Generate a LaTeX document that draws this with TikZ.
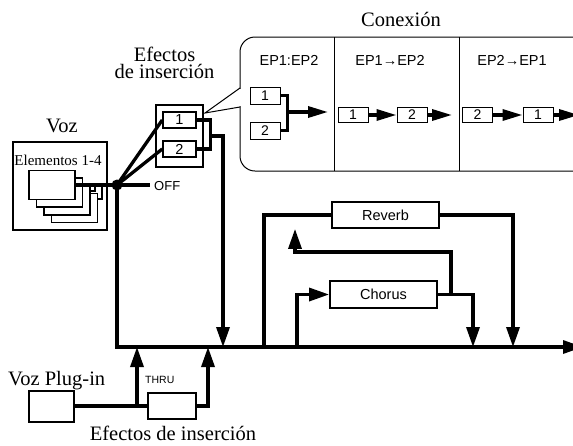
\documentclass[tikz,border=0pt]{standalone}
\usepackage{fontspec}
\setmainfont{Liberation Serif}
\setsansfont{Liberation Sans}
\usetikzlibrary{arrows.meta}
\begin{document}
\begin{tikzpicture}[x=1pt,y=-1pt,
  wire/.style={line width=3.3pt},
  stub/.style={line width=2pt},
  arr/.style={line width=3.3pt,-{Triangle[length=20pt,width=13pt]}},
  parr/.style={line width=3.3pt,-{Triangle[length=20pt,width=11pt]}},
  blk/.style={draw,line width=1.8pt,fill=white,inner sep=0pt},
  pbox/.style={draw,line width=1pt,fill=white,inner sep=0pt,minimum width=30pt,minimum height=15pt,font=\sffamily\fontsize{14}{14}\selectfont},
  ibox/.style={draw,line width=1.5pt,fill=white,inner sep=0pt,minimum width=33pt,minimum height=16pt,font=\sffamily\fontsize{14.5}{14.5}\selectfont},
  fxbox/.style={draw,line width=1.8pt,fill=white,inner sep=0pt,minimum width=107pt,minimum height=26pt,font=\sffamily\fontsize{14.5}{14.5}\selectfont},
  serif/.style={font=\fontsize{20.5}{22}\selectfont,inner sep=0pt},
  sanslbl/.style={font=\sffamily\fontsize{14.5}{14.5}\selectfont,inner sep=0pt},
  thinl/.style={line width=1pt}]
\useasboundingbox (0,0) rectangle (573,445);

% ---------- Conexion bubble ----------
\node[serif,anchor=base] (conx) at (401,26) {Conexión};
\draw[thinl,rounded corners=15pt] (240,100) -- (240,37) -- (590,37) -- (590,171) -- (240,171) -- (240,100);
\fill[white] (238,89) rectangle (242,106);
\draw[thinl] (240,88) -- (205,113) -- (240,107);
\draw[thinl] (334,37) -- (334,171);
\draw[thinl] (459,37) -- (459,171);
\node[sanslbl,anchor=base] (t1) at (289,65) {EP1:EP2};
\node[sanslbl,anchor=base] (t2) at (390,65) {EP1→EP2};
\node[sanslbl,anchor=base] (t3) at (512,65) {EP2→EP1};

\node[pbox,minimum height=17pt] (b1) at (265,95.5) {1};
\node[pbox,minimum height=17pt] (b2) at (265,130.5) {2};
\draw[wire] (b1.east) -- ++(7,0) |- (b2.east);
\coordinate (bm) at (287,112);
\coordinate (bo) at (328,112);
\draw[parr] (bm) -- (bo);

\node[pbox] (c1) at (353,115) {1};
\node[pbox] (c2) at (412,115) {2};
\coordinate (co) at (452,115);
\draw[parr] (c1.east) -- (c2.west);
\draw[parr] (c2.east) -- (co);

\node[pbox] (d2) at (477.5,115) {2};
\node[pbox] (d1) at (538,115) {1};
\coordinate (dout) at (579,115);
\draw[parr] (d2.east) -- (d1.west);
\draw[parr] (d1.east) -- (dout);

% ---------- Voz ----------
\node[blk,minimum width=94pt,minimum height=88pt] (voz) at (60,186) {};
\node[serif,anchor=base] (vozl) at (62,132) {Voz};
\node[font=\fontsize{15}{15}\selectfont,inner sep=0pt,anchor=base] (elem) at (58,165) {Elementos 1-4};
\node[blk,minimum width=46pt,minimum height=29pt] (e4) at (74.5,208) {};
\node[blk,minimum width=46pt,minimum height=29pt] (e3) at (67,200.3) {};
\node[blk,minimum width=46pt,minimum height=29pt] (e2) at (59.5,192.7) {};
\node[blk,minimum width=46pt,minimum height=29pt] (e1) at (52,185) {};

\node[circle,fill,inner sep=0pt,minimum size=11pt] (j) at (117,185) {};
\draw[wire] (e1.east) -- (j.center);
\draw[stub] ([yshift=-6pt]e3.north east) -- ++(4,0) |- (j.center);
\draw[stub] ([yshift=-6pt]e4.north east) -- ++(4,0) |- (j.center);
\coordinate (off) at (150,185);
\draw[wire] (j.center) -- (off);
\node[font=\sffamily\fontsize{13}{13}\selectfont,inner sep=0pt,anchor=base west] (offl) at (154,190) {OFF};

% ---------- Insertion effects (top) ----------
\node[inner sep=0pt,align=center,font=\fontsize{20.5}{17}\selectfont,anchor=north] (efl) at (164.5,47) {Efectos\\de inserción};
\node[draw,line width=1.2pt,fill=white,minimum width=47pt,minimum height=62pt,inner sep=0pt] (ins) at (179.5,136) {};
\node[ibox] (i1) at (179.5,120) {1};
\node[ibox] (i2) at (179.5,149) {2};
\draw[wire] (j.center) -- (i1.west);
\draw[wire] (j.center) -- (i2.west);
\draw[wire] (i1.east) -- ++(14,0) |- (i2.east);
\coordinate (im) at (210,136);
\coordinate (bi) at (223,347);
\draw[arr] (im) -| (bi);

% ---------- Bus ----------
\coordinate (busend) at (583,347);
\draw[arr] (j.center) |- (busend);

% ---------- Reverb / Chorus ----------
\node[fxbox] (rev) at (385.5,215) {Reverb};
\node[fxbox,minimum height=27pt] (cho) at (383.5,294.5) {Chorus};
\coordinate (rs) at (264,347);
\coordinate (rr) at (513,347);
\coordinate (cs) at (297,347);
\coordinate (cr) at (473,347);
\draw[wire] (rs) |- (rev.west);
\draw[arr] (rev.east) -| (rr);
\draw[arr] (cs) |- (cho.west);
\draw[arr] (cho.east) -| (cr);
\coordinate (cx) at (451,294.5);
\coordinate (cy) at (295,252);
\draw[arr] (cx) |- (cy) -- (cy |- rev.south);

% ---------- Plug-in ----------
\node[serif,anchor=base west] (plgl) at (8,385) {Voz Plug-in};
\node[blk,minimum width=45pt,minimum height=31pt] (plg) at (51.5,406.5) {};
\node[blk,minimum width=48pt,minimum height=26pt] (pins) at (172,406) {};
\draw[wire] (plg.east |- pins.west) -- (pins.west);
\coordinate (th) at (137,406);
\coordinate (thb) at (137,347);
\draw[arr] (th) -- (thb);
\node[font=\sffamily\fontsize{10.5}{10.5}\selectfont,inner sep=0pt,anchor=base west] (thru) at (145,383) {THRU};
\coordinate (pb) at (208,347);
\draw[arr] (pins.east) -| (pb);
\node[serif,anchor=base] (pinsl) at (173,440) {Efectos de inserción};
\end{tikzpicture}
\end{document}
